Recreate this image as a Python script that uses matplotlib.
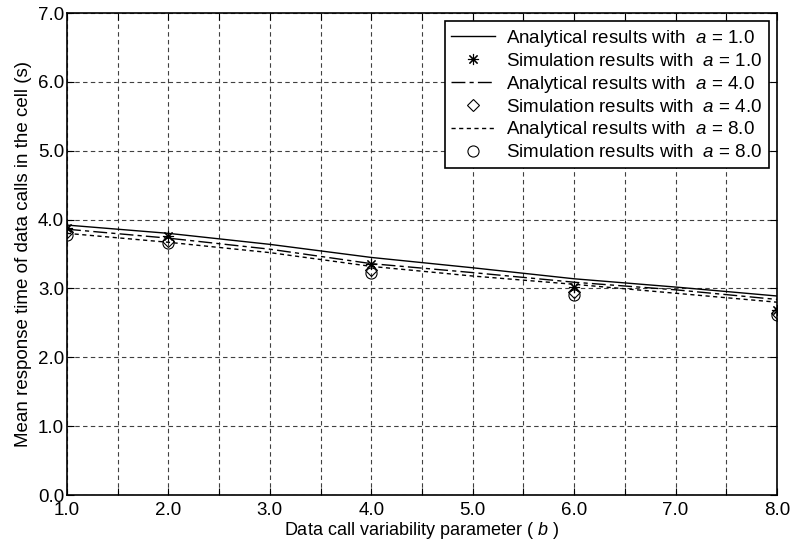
import matplotlib
matplotlib.use("Agg")
import matplotlib.pyplot as plt
from matplotlib.ticker import MultipleLocator, FormatStrFormatter

plt.rcParams['font.family'] = ['Liberation Sans', 'DejaVu Sans']
plt.rcParams['mathtext.fontset'] = 'custom'
plt.rcParams['mathtext.it'] = 'Liberation Sans:italic'
plt.rcParams['mathtext.rm'] = 'Liberation Sans'

# analytical curves, b = 1..8
b_values = [1, 2, 3, 4, 5, 6, 7, 8]
analytic_a1 = [3.92, 3.80, 3.64, 3.45, 3.30, 3.14, 3.02, 2.89]
analytic_a4 = [3.86, 3.73, 3.57, 3.36, 3.23, 3.09, 2.98, 2.84]
analytic_a8 = [3.80, 3.67, 3.52, 3.32, 3.18, 3.06, 2.93, 2.80]

# simulation points
sim_b = [1, 2, 4, 6, 8]
sim_a1 = [3.88, 3.76, 3.35, 3.02, 2.69]
sim_a4 = [3.82, 3.69, 3.27, 2.95, 2.65]
sim_a8 = [3.78, 3.66, 3.23, 2.91, 2.61]

x_ticks = [1, 2, 3, 4, 5, 6, 7, 8]
y_ticks = [0, 1, 2, 3, 4, 5, 6, 7]

fig = plt.figure(figsize=(7.92, 5.5), dpi=100)
ax = fig.add_axes([67 / 792, 55 / 550, 710 / 792, 482 / 550])

ax.plot(b_values, analytic_a1, color='k', lw=1.0, ls='-',
        label=r'Analytical results with  $a$ = 1.0')
ax.plot(sim_b, sim_a1, color='k', ls='none', marker=(8, 2, 0), ms=8, mew=0.8,
        label=r'Simulation results with  $a$ = 1.0')
ax.plot(b_values, analytic_a4, color='k', lw=1.0, ls=(0, (10, 3, 3, 3)),
        label=r'Analytical results with  $a$ = 4.0')
ax.plot(sim_b, sim_a4, color='k', ls='none', marker='D', ms=6.5, mfc='none', mew=0.8,
        label=r'Simulation results with  $a$ = 4.0')
ax.plot(b_values, analytic_a8, color='k', lw=1.0, ls=(0, (3, 2.5)),
        label=r'Analytical results with  $a$ = 8.0')
ax.plot(sim_b, sim_a8, color='k', ls='none', marker='o', ms=8, mfc='none', mew=0.8,
        label=r'Simulation results with  $a$ = 8.0')

ax.set_xlim(1, 8)
ax.set_ylim(0, 7)
ax.set_xticks(x_ticks)
ax.set_yticks(y_ticks)
ax.xaxis.set_minor_locator(MultipleLocator(0.5))
ax.xaxis.set_major_formatter(FormatStrFormatter('%.1f'))
ax.yaxis.set_major_formatter(FormatStrFormatter('%.1f'))

ax.grid(True, which='both', axis='x', color='0.25', ls=(0, (4, 3)), lw=0.8)
ax.grid(True, which='major', axis='y', color='0.25', ls=(0, (4, 3)), lw=0.8)

ax.tick_params(which='both', direction='in', top=True, right=True,
               length=5, width=0.8, labelsize=13.5)
ax.tick_params(axis='x', pad=5)
ax.tick_params(axis='y', pad=2)
for s in ax.spines.values():
    s.set_linewidth(1.2)

ax.set_xlabel(r'Data call variability parameter ( $b$ )', fontsize=13, labelpad=1)
ax.set_ylabel('Mean response time of data calls in the cell (s)', fontsize=13.5, labelpad=4)

leg = ax.legend(loc='upper right', fontsize=13.5, frameon=True, fancybox=False,
                edgecolor='k', framealpha=1, handlelength=2.3, labelspacing=0.2,
                borderpad=0.35, handletextpad=0.6, borderaxespad=0.45)
leg.get_frame().set_linewidth(1.2)

fig.savefig('out.png', dpi=100)
